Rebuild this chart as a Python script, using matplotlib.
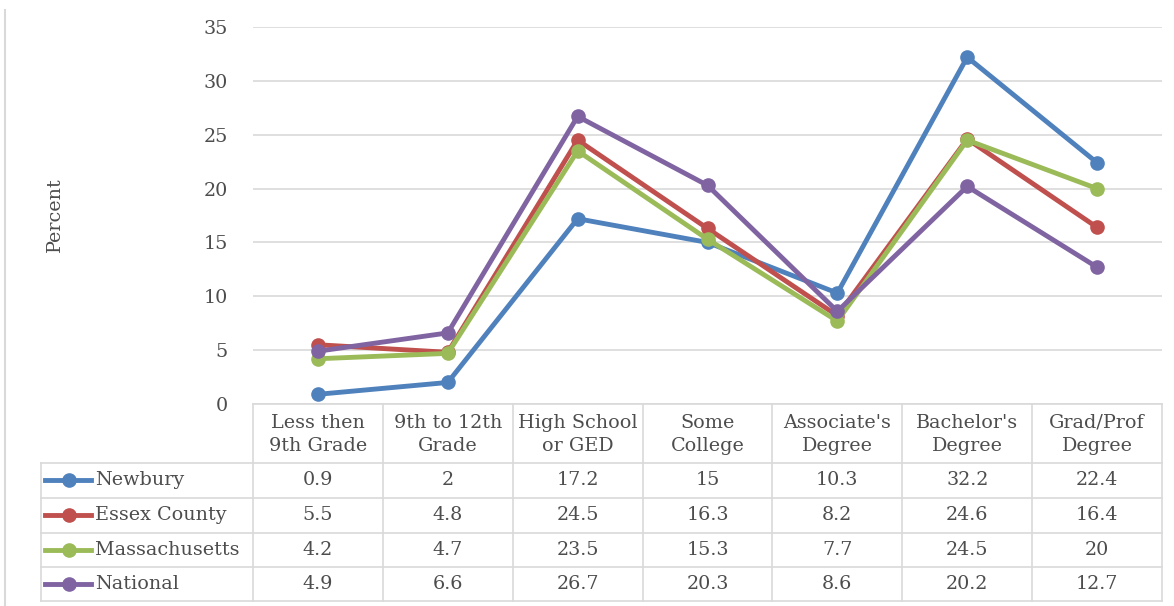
import numpy as np
import matplotlib
matplotlib.use('Agg')
import matplotlib.pyplot as plt
from matplotlib.lines import Line2D

# categories (header of the data table)
categories = ['Less then\n9th Grade', '9th to 12th\nGrade', 'High School\nor GED',
              'Some\nCollege', "Associate's\nDegree", "Bachelor's\nDegree", 'Grad/Prof\nDegree']

newbury = [0.9, 2, 17.2, 15, 10.3, 32.2, 22.4]
essex = [5.5, 4.8, 24.5, 16.3, 8.2, 24.6, 16.4]
massachusetts = [4.2, 4.7, 23.5, 15.3, 7.7, 24.5, 20]
national = [4.9, 6.6, 26.7, 20.3, 8.6, 20.2, 12.7]

series_names = ['Newbury', 'Essex County', 'Massachusetts', 'National']
series_vals = [newbury, essex, massachusetts, national]
colors = ['#4F81BD', '#C0504D', '#9BBB59', '#8064A2']

yticks = [0, 5, 10, 15, 20, 25, 30, 35]

plt.rcParams['font.family'] = ['DejaVu Serif']
txt = '#4d4d4d'
gridc = '#D9D9D9'
fs = 13.8

W, H = 1174, 606
fig = plt.figure(figsize=(W / 100, H / 100), dpi=100)

# main plot area (pixel layout)
x0, x1 = 253, 1162
ytop, ybot = 27, 404
ax = fig.add_axes([x0 / W, 1 - ybot / H, (x1 - x0) / W, (ybot - ytop) / H])
n = len(categories)
xs = np.arange(n)
for vals, c in zip(series_vals, colors):
    ax.plot(xs, vals, color=c, lw=3.5, marker='o', ms=9.5, solid_capstyle='round',
            solid_joinstyle='round', clip_on=False)
ax.set_xlim(-0.5, n - 0.5)
ax.set_ylim(0, 35)
ax.set_yticks(yticks)
ax.set_xticks([])
ax.yaxis.grid(True, color=gridc, lw=1.2)
ax.set_axisbelow(True)
for s in ax.spines.values():
    s.set_visible(False)
ax.tick_params(axis='y', length=0, pad=18, labelsize=fs, labelcolor=txt)
fig.text(55 / W, 1 - 215 / H, 'Percent', rotation=90, ha='center', va='center',
         fontsize=fs, color=txt)

# data table under the plot
lx = 41
legw = (x0 - lx) / ((x1 - x0) / n)
tax = fig.add_axes([lx / W, 1 - 601 / H, (x1 - lx) / W, (601 - ybot) / H])
tax.set_xlim(-0.5 - legw, n - 0.5)
rows_y = [404, 463, 498, 533, 567, 601]
tax.set_ylim(rows_y[-1], rows_y[0])
tax.axis('off')

lk = dict(color=gridc, lw=1.2, clip_on=False)
# horizontal lines
tax.plot([-0.5, n - 0.5], [rows_y[0]] * 2, **lk)
for yy in rows_y[1:]:
    tax.plot([-0.5 - legw, n - 0.5], [yy] * 2, **lk)
# vertical lines
tax.plot([-0.5 - legw] * 2, [rows_y[1], rows_y[-1]], **lk)
for i in range(n + 1):
    tax.plot([i - 0.5] * 2, [rows_y[0], rows_y[-1]], **lk)

for i, lab in enumerate(categories):
    tax.text(i, (rows_y[0] + rows_y[1]) / 2 + 1, lab, ha='center', va='center',
             fontsize=fs, color=txt, linespacing=1.4)

px = (x1 - x0) / n
for r, (name, vals, c) in enumerate(zip(series_names, series_vals, colors)):
    yc = (rows_y[r + 1] + rows_y[r + 2]) / 2
    for i, v in enumerate(vals):
        tax.text(i, yc, f'{v:g}', ha='center', va='center', fontsize=fs, color=txt)
    lx0 = -0.5 - legw + 4 / px
    lx1 = lx0 + 46 / px
    tax.add_line(Line2D([lx0, lx1], [yc, yc], color=c, lw=3.5, clip_on=False))
    tax.plot([lx0 + 24 / px], [yc], 'o', color=c, ms=9.5, clip_on=False)
    tax.text(lx1 + 4 / px, yc, name, ha='left', va='center', fontsize=fs, color=txt)

# chart area border fragment on the left
fig.add_artist(Line2D([5 / W, 5 / W], [0, 1 - 10 / H], color=gridc, lw=1.5))

fig.savefig('out.png', dpi=100, facecolor='white')
